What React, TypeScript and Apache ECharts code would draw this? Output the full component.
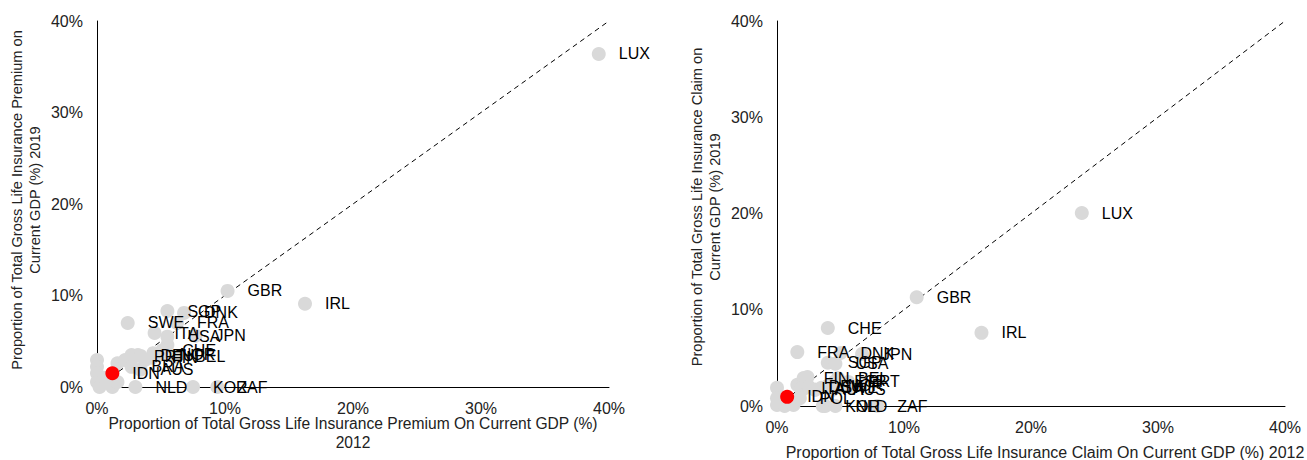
import React, { useEffect, useRef } from "react";
import * as echarts from "echarts";

// ---- Data (percent of GDP) ----
// Left chart: Gross life insurance premium, 2012 (x) vs 2019 (y)
const premiumCountries = ["LUX", "GBR", "IRL", "SGP", "DNK", "SWE", "FRA", "ITA", "USA", "JPN", "CHE", "BEL", "PRT", "DEU", "FIN", "NOR", "BRA", "AUS", "NLD", "KOR", "ZAF"];
const premium2012 = [39.2, 10.2, 16.25, 5.5, 6.8, 2.4, 6.25, 4.5, 5.5, 7.7, 5.1, 6.1, 2.9, 3.4, 4.3, 4.9, 2.7, 3.4, 3.0, 7.5, 9.4];
const premium2019 = [36.4, 10.5, 9.1, 8.3, 8.1, 7.0, 7.0, 5.9, 5.5, 5.6, 4.0, 3.3, 3.3, 3.4, 3.2, 3.5, 2.2, 1.9, 0, 0, 0];
// unlabelled small markets
const premiumOther2012 = [0, 0, 0, 0, 0.2, 1.2, 0.6, 1.6, 1.6, 2.2, 2.7, 3.2, 3.75, 4.4, 5.5];
const premiumOther2019 = [2.95, 2.2, 1.5, 0.55, 0, 0, 1.0, 0.55, 2.6, 2.95, 3.5, 3.5, 2.95, 3.7, 4.6];
const premiumIdn = { name: "IDN", x: 1.2, y: 1.5 };

// Right chart: Gross life insurance claim, 2012 (x) vs 2019 (y)
const claimCountries = ["LUX", "GBR", "IRL", "CHE", "FRA", "DNK", "JPN", "SGP", "USA", "FIN", "BEL", "ESP", "PRT", "ITA", "DEU", "AUT", "SWE", "NOR", "AUS", "POL", "KOR", "NLD", "ZAF"];
const claim2012 = [24.0, 11.0, 16.1, 4.0, 1.6, 5.0, 6.7, 4.0, 4.6, 2.1, 4.8, 4.5, 5.6, 1.9, 2.5, 3.0, 3.5, 4.0, 4.4, 1.8, 3.8, 4.6, 7.9];
const claim2019 = [20.05, 11.3, 7.6, 8.1, 5.6, 5.5, 5.4, 4.5, 4.4, 2.9, 2.9, 2.5, 2.5, 1.8, 2.0, 1.7, 1.9, 2.1, 1.7, 0.8, 0, 0, 0];
const claimOther2012 = [0, 0, 0, 0.6, 1.6, 2.4, 2.0, 1.3, 3.6, 3.0, 4.0, 5.1, 5.9];
const claimOther2019 = [1.9, 0.8, 0.1, 0, 2.2, 3.0, 1.7, 0.1, 0, 1.7, 2.0, 2.0, 2.0];
const claimIdn = { name: "IDN", x: 0.8, y: 0.95 };

const axisTicks = [0, 10, 20, 30, 40];

const FONT = "'Liberation Sans', Arial, sans-serif";
const GREY = "#d9d9d9";

function zip(names: string[] | null, xs: number[], ys: number[]) {
  return xs.map((x, i) => (names ? { name: names[i], value: [x, ys[i]] } : { value: [x, ys[i]] }));
}

export default function App() {
  const ref = useRef<HTMLDivElement>(null);
  useEffect(() => {
    if (!ref.current) return;
    const chart = echarts.init(ref.current, null, { renderer: "svg" });
    const labelStyle = {
      show: true,
      position: "right" as const,
      distance: 13,
      color: "#000",
      fontSize: 16,
      fontFamily: FONT,
      formatter: "{b}",
    };
    const axisBase = (idx: number) => ({
      gridIndex: idx,
      type: "value" as const,
      min: axisTicks[0],
      max: axisTicks[axisTicks.length - 1],
      interval: 10,
      axisLine: { show: true, lineStyle: { color: "#000", width: 1 } },
      axisTick: { show: false },
      splitLine: { show: false },
      axisLabel: { formatter: "{value}%", color: "#222", fontSize: 16, fontFamily: FONT },
    });
    const diag = (idx: number) => ({
      type: "line" as const,
      xAxisIndex: idx,
      yAxisIndex: idx,
      data: [
        [axisTicks[0], axisTicks[0]],
        [axisTicks[4], axisTicks[4]],
      ],
      symbol: "none",
      lineStyle: { color: "#000", width: 1, type: [5, 4] },
      silent: true,
      z: 1,
    });
    const scatter = (idx: number, data: any[], color: string, label: boolean) => ({
      type: "scatter" as const,
      xAxisIndex: idx,
      yAxisIndex: idx,
      data,
      symbolSize: 14,
      itemStyle: { color, opacity: 1 },
      label: label ? labelStyle : { show: false },
      z: 3,
    });
    chart.setOption({
      animation: false,
      backgroundColor: "#fff",
      textStyle: { fontFamily: FONT },
      grid: [
        { left: 97, top: 21, width: 512, height: 366 },
        { left: 777, top: 21, width: 508, height: 385 },
      ],
      xAxis: [
        { ...axisBase(0), axisLabel: { ...axisBase(0).axisLabel, margin: 13 } },
        { ...axisBase(1), axisLabel: { ...axisBase(1).axisLabel, margin: 13 } },
      ],
      yAxis: [
        { ...axisBase(0), axisLabel: { ...axisBase(0).axisLabel, margin: 14 } },
        { ...axisBase(1), axisLabel: { ...axisBase(1).axisLabel, margin: 14 } },
      ],
      series: [
        diag(0),
        scatter(0, zip(null, premiumOther2012, premiumOther2019), GREY, false),
        scatter(0, zip(premiumCountries, premium2012, premium2019), GREY, true),
        scatter(0, [{ name: premiumIdn.name, value: [premiumIdn.x, premiumIdn.y] }], "#ff0000", true),
        diag(1),
        scatter(1, zip(null, claimOther2012, claimOther2019), GREY, false),
        scatter(1, zip(claimCountries, claim2012, claim2019), GREY, true),
        scatter(1, [{ name: claimIdn.name, value: [claimIdn.x, claimIdn.y] }], "#ff0000", true),
      ],
      graphic: [
        {
          type: "text",
          x: 353,
          y: 433,
          style: {
            text: "Proportion of Total Gross Life Insurance Premium On Current GDP (%)\n2012",
            textAlign: "center",
            textVerticalAlign: "middle",
            fontSize: 15.6,
            lineHeight: 19,
            fontFamily: FONT,
            fill: "#222",
          },
        },
        {
          type: "text",
          x: 1045,
          y: 452,
          style: {
            text: "Proportion of Total Gross Life Insurance Claim On Current GDP (%) 2012",
            textAlign: "center",
            textVerticalAlign: "middle",
            fontSize: 16,
            fontFamily: FONT,
            fill: "#222",
          },
        },
        {
          type: "text",
          x: 26,
          y: 200,
          rotation: Math.PI / 2,
          style: {
            text: "Proportion of Total Gross Life Insurance Premium on\nCurrent GDP (%) 2019",
            textAlign: "center",
            textVerticalAlign: "middle",
            fontSize: 14.6,
            lineHeight: 18,
            fontFamily: FONT,
            fill: "#222",
          },
        },
        {
          type: "text",
          x: 706,
          y: 207,
          rotation: Math.PI / 2,
          style: {
            text: "Proportion of Total Gross Life Insurance Claim on\nCurrent GDP (%) 2019",
            textAlign: "center",
            textVerticalAlign: "middle",
            fontSize: 14.6,
            lineHeight: 18,
            fontFamily: FONT,
            fill: "#222",
          },
        },
      ],
    });
    return () => chart.dispose();
  }, []);
  return (
    <div
      ref={ref}
      style={{ position: "fixed", left: 0, top: 0, width: 1307, height: 460, background: "#fff" }}
    />
  );
}
